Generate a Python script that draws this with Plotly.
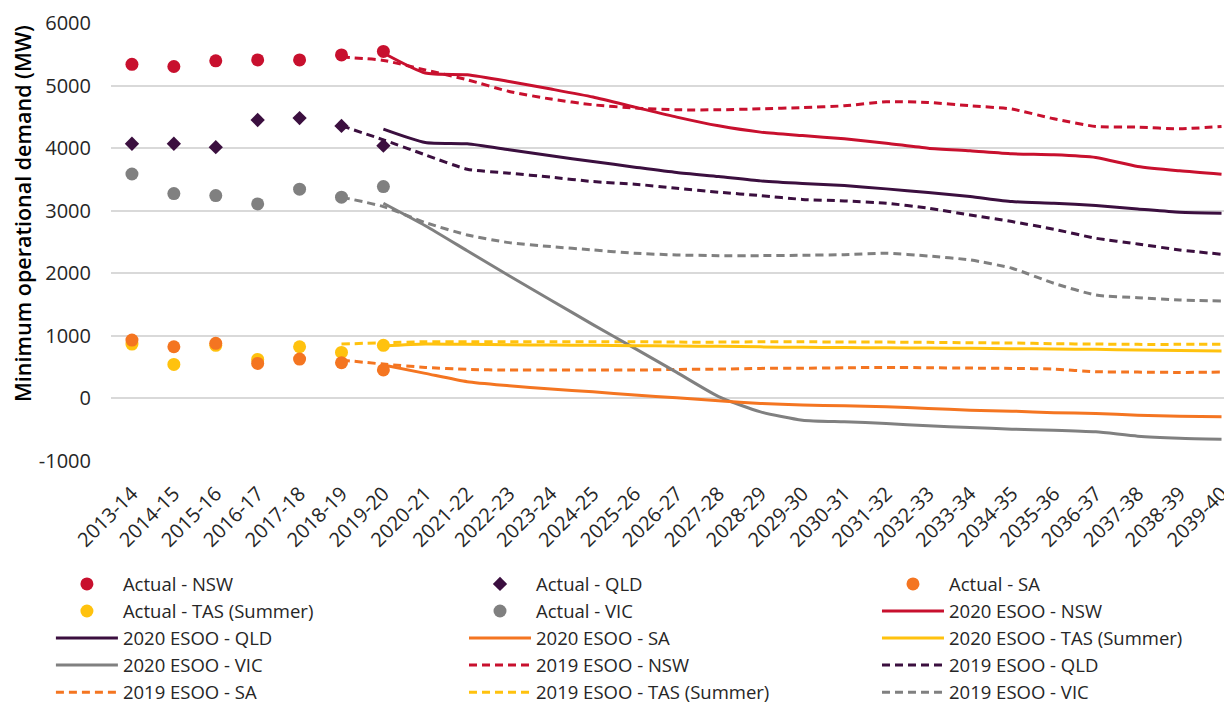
import plotly.graph_objects as go

years = ["2013-14","2014-15","2015-16","2016-17","2017-18","2018-19","2019-20",
         "2020-21","2021-22","2022-23","2023-24","2024-25","2025-26","2026-27",
         "2027-28","2028-29","2029-30","2030-31","2031-32","2032-33","2033-34",
         "2034-35","2035-36","2036-37","2037-38","2038-39","2039-40"]

actual_years = years[0:7]
esoo2020_years = years[6:]
esoo2019_years = years[5:]

actual_nsw = [5340, 5305, 5395, 5410, 5410, 5490, 5545]
actual_qld = [4070, 4070, 4015, 4450, 4480, 4355, 4040]
actual_sa = [933, 826, 880, 560, 629, 570, 455]
actual_tas = [869, 544, 848, 624, 826, 736, 848]
actual_vic = [3587, 3274, 3242, 3109, 3344, 3216, 3386]

esoo2020_nsw = [5520, 5200, 5173, 5066, 4944, 4816, 4656, 4496, 4357, 4256, 4201,
                4149, 4080, 4000, 3957, 3909, 3893, 3850, 3706, 3637, 3584]
esoo2020_qld = [4304, 4090, 4069, 3973, 3877, 3786, 3696, 3610, 3546, 3477, 3435,
                3402, 3349, 3290, 3226, 3146, 3120, 3082, 3029, 2976, 2960]
esoo2020_sa = [533, 400, 267, 203, 149, 107, 53, 11, -37, -80, -107,
               -117, -133, -160, -187, -203, -229, -240, -267, -283, -293]
esoo2020_tas = [837, 869, 864, 858, 853, 848, 843, 838, 832, 824, 816,
                812, 808, 804, 800, 795, 790, 784, 775, 765, 757]
esoo2020_vic = [3120, 2760, 2360, 1960, 1570, 1180, 800, 416, 30, -214, -347,
                -374, -400, -438, -464, -491, -507, -534, -603, -635, -651]

esoo2019_nsw = [5456, 5402, 5250, 5093, 4906, 4784, 4693, 4640, 4613, 4613, 4629, 4648,
                4677, 4741, 4730, 4677, 4624, 4469, 4346, 4336, 4309, 4346]
esoo2019_qld = [4357, 4133, 3893, 3664, 3600, 3536, 3466, 3424, 3360, 3296, 3242, 3181,
                3157, 3120, 3040, 2933, 2826, 2704, 2560, 2469, 2373, 2304]
esoo2019_sa = [613, 549, 496, 464, 453, 453, 453, 453, 464, 469, 480, 482,
               490, 496, 490, 485, 480, 469, 427, 421, 416, 421]
esoo2019_tas = [869, 890, 906, 906, 906, 906, 906, 906, 900, 900, 906, 906,
                900, 900, 896, 890, 885, 875, 869, 864, 864, 864]
esoo2019_vic = [3216, 3066, 2810, 2613, 2490, 2426, 2373, 2320, 2293, 2282, 2282, 2288,
                2298, 2320, 2277, 2213, 2080, 1840, 1653, 1610, 1573, 1557]

C_NSW = "#C8102E"
C_QLD = "#3B0F3F"
C_SA = "#F47521"
C_TAS = "#FFC20E"
C_VIC = "#808080"

y_ticks = [-1000, 0, 1000, 2000, 3000, 4000, 5000, 6000]
y_title = "Minimum operational demand (MW)"

# legend column layout (row-wise order of the reference legend)
legend_cols = {
    "legend": ["Actual - NSW", "Actual - TAS (Summer)", "2020 ESOO - QLD", "2020 ESOO - VIC", "2019 ESOO - SA"],
    "legend2": ["Actual - QLD", "Actual - VIC", "2020 ESOO - SA", "2019 ESOO - NSW", "2019 ESOO - TAS (Summer)"],
    "legend3": ["Actual - SA", "2020 ESOO - NSW", "2020 ESOO - TAS (Summer)", "2019 ESOO - QLD", "2019 ESOO - VIC"],
}

def legend_of(name):
    for k, names in legend_cols.items():
        if name in names:
            return k, names.index(name)

fig = go.Figure()

def add_marker(name, ys, color, symbol="circle", size=13):
    lg, rank = legend_of(name)
    fig.add_trace(go.Scatter(x=actual_years, y=ys, name=name, mode="markers",
                             legend=lg, legendrank=1000 + rank,
                             marker=dict(color=color, size=size, symbol=symbol,
                                         line=dict(width=0))))

def add_line(name, xs, ys, color, dash="solid"):
    lg, rank = legend_of(name)
    fig.add_trace(go.Scatter(x=xs, y=ys, name=name, mode="lines",
                             legend=lg, legendrank=1000 + rank,
                             line=dict(color=color, width=3, dash=dash,
                                       shape="spline", smoothing=0.6)))

D = "8px,5px"
add_line("2019 ESOO - VIC", esoo2019_years, esoo2019_vic, C_VIC, D)
add_line("2019 ESOO - TAS (Summer)", esoo2019_years, esoo2019_tas, C_TAS, D)
add_line("2019 ESOO - SA", esoo2019_years, esoo2019_sa, C_SA, D)
add_line("2019 ESOO - QLD", esoo2019_years, esoo2019_qld, C_QLD, D)
add_line("2019 ESOO - NSW", esoo2019_years, esoo2019_nsw, C_NSW, D)
add_line("2020 ESOO - VIC", esoo2020_years, esoo2020_vic, C_VIC)
add_line("2020 ESOO - TAS (Summer)", esoo2020_years, esoo2020_tas, C_TAS)
add_line("2020 ESOO - SA", esoo2020_years, esoo2020_sa, C_SA)
add_line("2020 ESOO - QLD", esoo2020_years, esoo2020_qld, C_QLD)
add_line("2020 ESOO - NSW", esoo2020_years, esoo2020_nsw, C_NSW)
add_marker("Actual - VIC", actual_vic, C_VIC)
add_marker("Actual - TAS (Summer)", actual_tas, C_TAS)
add_marker("Actual - SA", actual_sa, C_SA)
add_marker("Actual - QLD", actual_qld, C_QLD, symbol="diamond", size=11)
add_marker("Actual - NSW", actual_nsw, C_NSW)

FONT = "Open Sans, Noto Sans, sans-serif"
TXT = "#262626"

def legend_box(x):
    return dict(orientation="v", x=x, xanchor="left", y=-0.2384, yanchor="top",
                xref="paper", yref="paper", itemwidth=62, maxheight=400,
                font=dict(family=FONT, size=18.5, color=TXT),
                traceorder="normal", itemclick=False, itemdoubleclick=False,
                bgcolor="rgba(0,0,0,0)", borderwidth=0)

fig.add_annotation(text=y_title, textangle=-90, xref="paper", yref="paper",
                   x=-0.0785, y=0.564, xanchor="center", yanchor="middle",
                   showarrow=False, font=dict(family=FONT, size=21.5, color="#000000", weight=600))

fig.update_layout(
    width=1224, height=696,
    margin=dict(l=103, r=0, t=15, b=243, autoexpand=False),
    paper_bgcolor="white", plot_bgcolor="white",
    font=dict(family=FONT, size=20, color=TXT),
    showlegend=True,
    legend=legend_box(-0.0536),
    legend2=legend_box(0.3149),
    legend3=legend_box(0.6833),
    xaxis=dict(type="category", categoryorder="array", categoryarray=years,
               range=[-0.5, 26.25], tickangle=-45, showgrid=False,
               showline=False, ticks="", tickfont=dict(size=20, color=TXT),
               ticklabelstandoff=16,
               zeroline=False, fixedrange=True, automargin=False),
    yaxis=dict(range=[-1000, 6000], tickvals=y_ticks, ticktext=[str(v) for v in y_ticks],
               showgrid=True, gridcolor="#D9D9D9", gridwidth=1.5, zeroline=False,
               showline=False, ticks="", tickfont=dict(size=20, color=TXT),
               ticklabelstandoff=19, automargin=False, fixedrange=True),
)

fig.write_html("out.html")
